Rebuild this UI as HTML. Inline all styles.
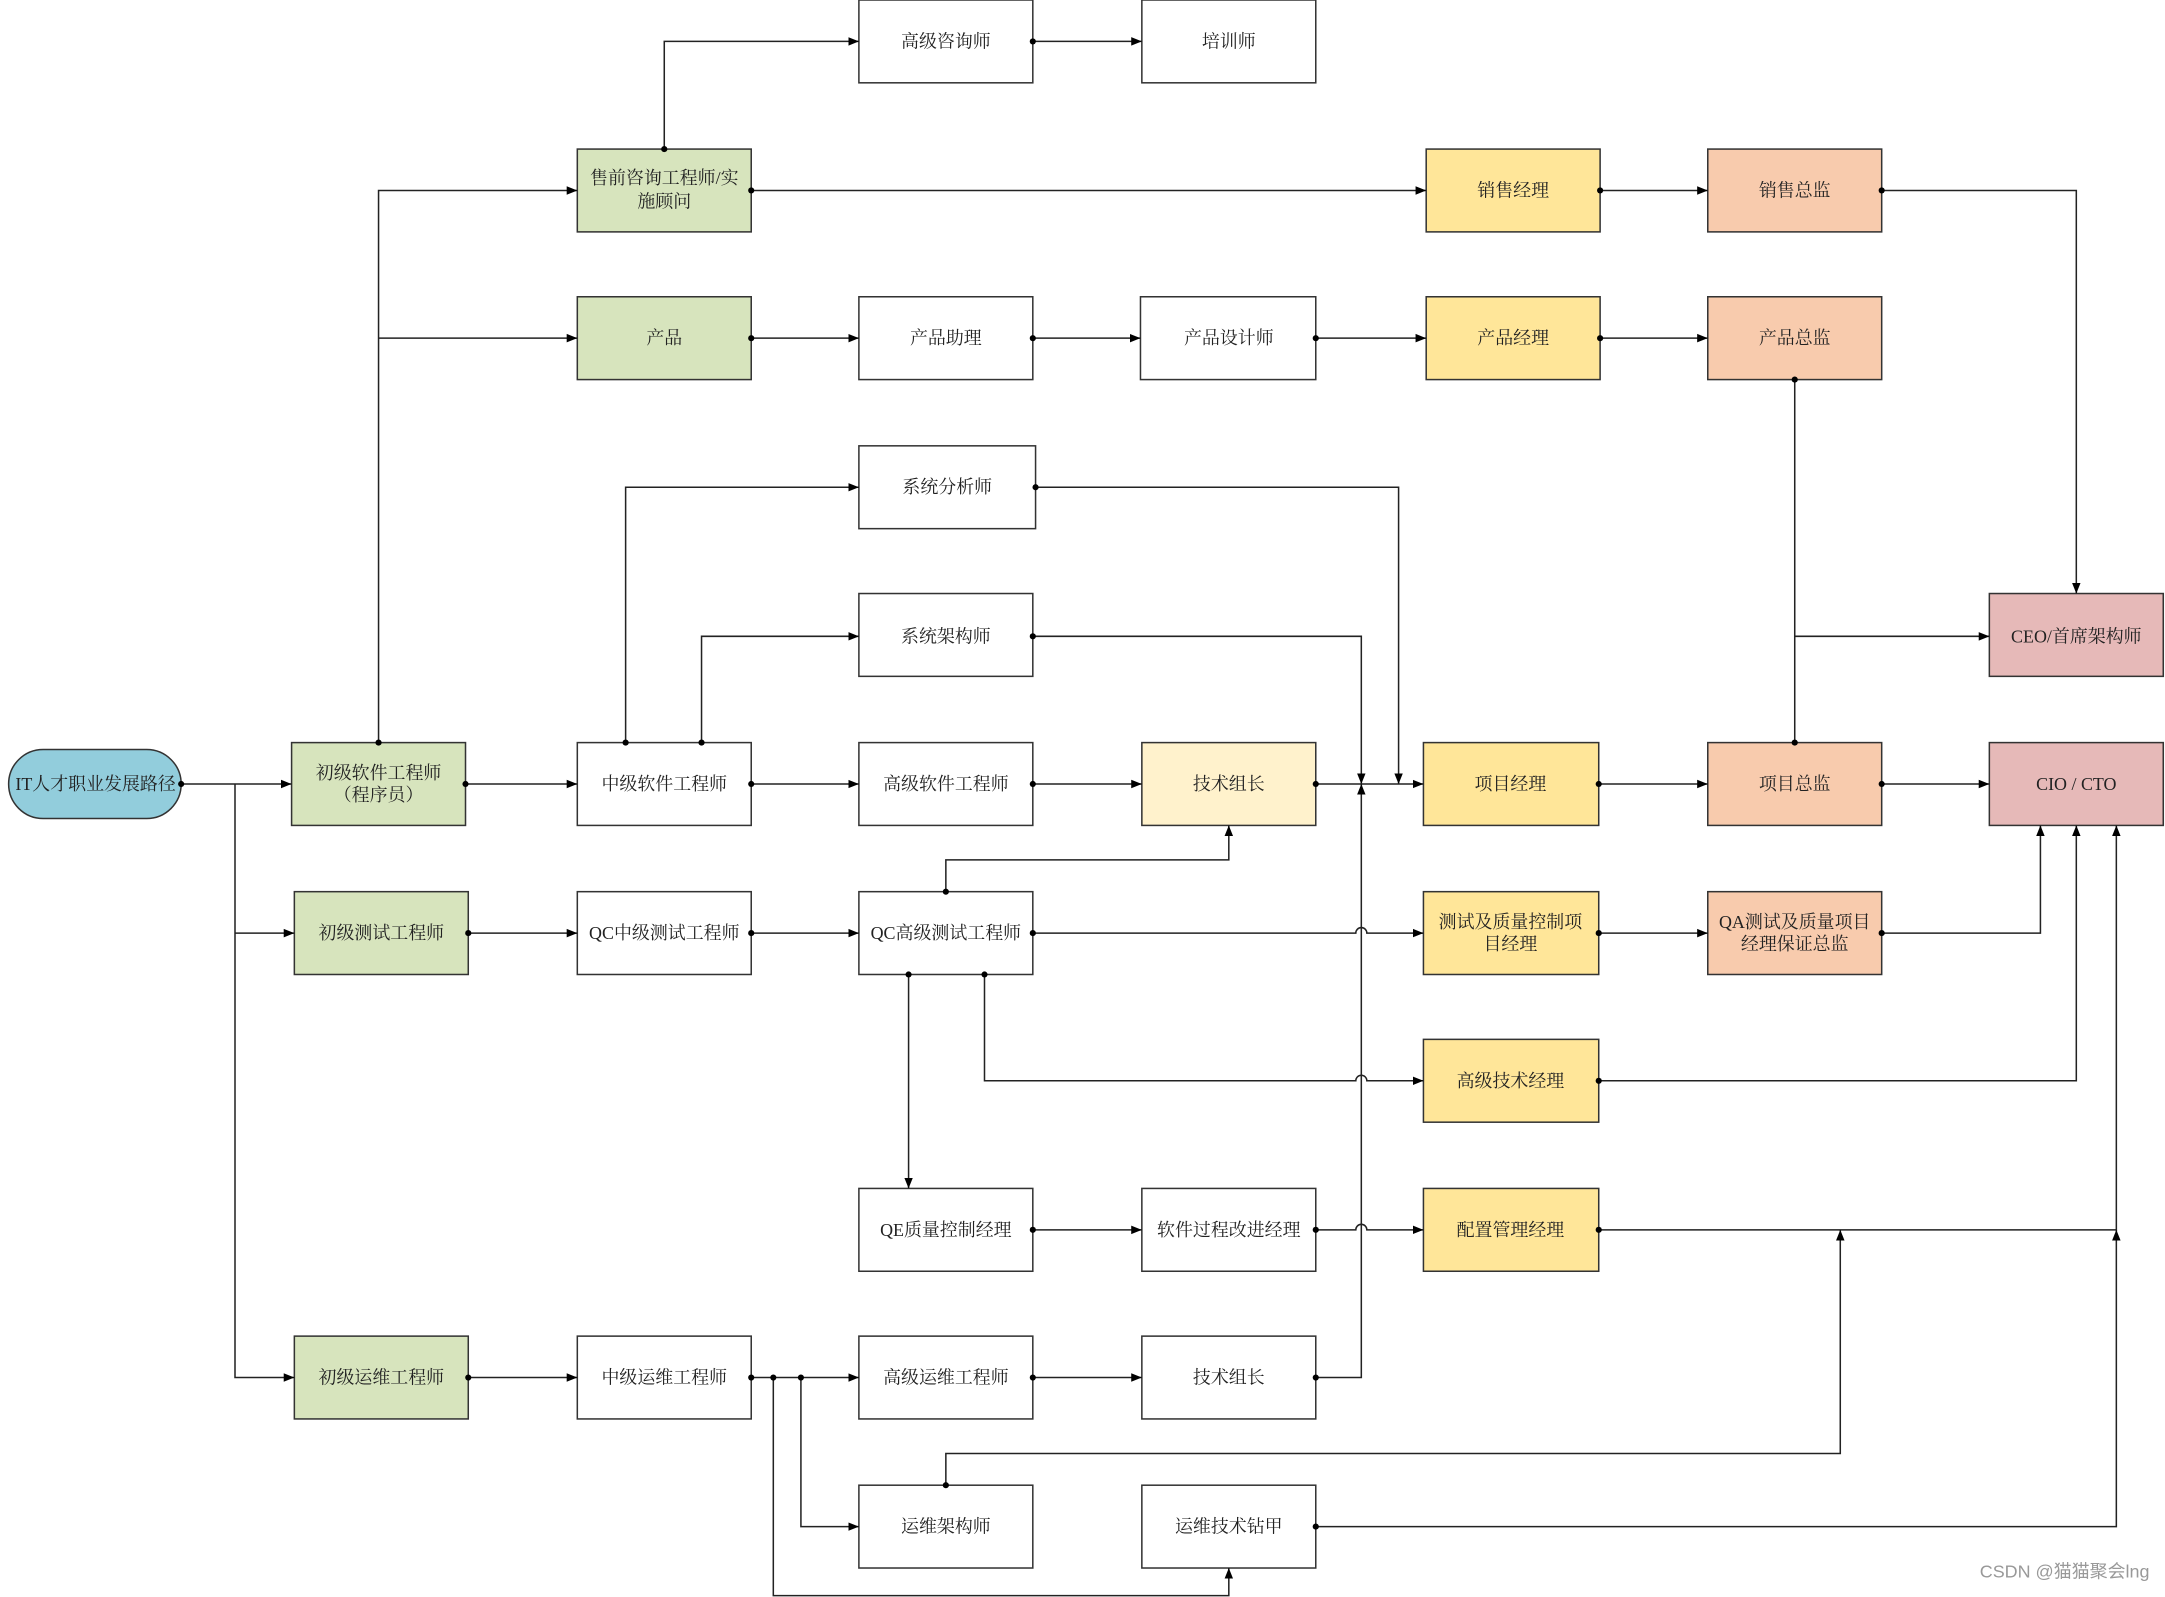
<!DOCTYPE html>
<html><head><meta charset="utf-8"><style>html,body{margin:0;padding:0;background:#fff}svg{display:block}</style></head>
<body>
<svg width="2165" height="1597" viewBox="0 0 1568 1157" xmlns="http://www.w3.org/2000/svg" font-family="'Liberation Serif','Noto Serif CJK SC',serif" font-size="13">
<defs>
<marker id="a" viewBox="0 0 10 10" refX="10" refY="5" markerWidth="7" markerHeight="7" orient="auto-start-reverse"><path d="M0,1 L10,5 L0,9 z" fill="#000"/></marker>
<marker id="d" viewBox="0 0 10 10" refX="5" refY="5" markerWidth="4.5" markerHeight="4.5"><circle cx="5" cy="5" r="4.5" fill="#000"/></marker>
</defs>
<g fill="none" stroke="#333" stroke-width="1.1">
<rect x="622" y="0" width="126" height="60" fill="#fff"/>
<rect x="827" y="0" width="126" height="60" fill="#fff"/>
<rect x="418" y="108" width="126" height="60" fill="#d7e4bd"/>
<rect x="1033" y="108" width="126" height="60" fill="#ffe699"/>
<rect x="1237" y="108" width="126" height="60" fill="#f8cbad"/>
<rect x="418" y="215" width="126" height="60" fill="#d7e4bd"/>
<rect x="622" y="215" width="126" height="60" fill="#fff"/>
<rect x="826" y="215" width="127" height="60" fill="#fff"/>
<rect x="1033" y="215" width="126" height="60" fill="#ffe699"/>
<rect x="1237" y="215" width="126" height="60" fill="#f8cbad"/>
<rect x="622" y="323" width="128" height="60" fill="#fff"/>
<rect x="622" y="430" width="126" height="60" fill="#fff"/>
<rect x="1441" y="430" width="126" height="60" fill="#e6b9b8"/>
<rect x="6" y="543" width="125" height="50" rx="25" fill="#92cddc"/>
<rect x="211" y="538" width="126" height="60" fill="#d7e4bd"/>
<rect x="418" y="538" width="126" height="60" fill="#fff"/>
<rect x="622" y="538" width="126" height="60" fill="#fff"/>
<rect x="827" y="538" width="126" height="60" fill="#fff2cc"/>
<rect x="1031" y="538" width="127" height="60" fill="#ffe699"/>
<rect x="1237" y="538" width="126" height="60" fill="#f8cbad"/>
<rect x="1441" y="538" width="126" height="60" fill="#e6b9b8"/>
<rect x="213" y="646" width="126" height="60" fill="#d7e4bd"/>
<rect x="418" y="646" width="126" height="60" fill="#fff"/>
<rect x="622" y="646" width="126" height="60" fill="#fff"/>
<rect x="1031" y="646" width="127" height="60" fill="#ffe699"/>
<rect x="1237" y="646" width="126" height="60" fill="#f8cbad"/>
<rect x="1031" y="753" width="127" height="60" fill="#ffe699"/>
<rect x="622" y="861" width="126" height="60" fill="#fff"/>
<rect x="827" y="861" width="126" height="60" fill="#fff"/>
<rect x="1031" y="861" width="127" height="60" fill="#ffe699"/>
<rect x="213" y="968" width="126" height="60" fill="#d7e4bd"/>
<rect x="418" y="968" width="126" height="60" fill="#fff"/>
<rect x="622" y="968" width="126" height="60" fill="#fff"/>
<rect x="827" y="968" width="126" height="60" fill="#fff"/>
<rect x="622" y="1076" width="126" height="60" fill="#fff"/>
<rect x="827" y="1076" width="126" height="60" fill="#fff"/>
</g>
<g fill="none" stroke="#222" stroke-width="1.1">
<path d="M131,568 H211" marker-start="url(#d)" marker-end="url(#a)"/>
<path d="M170,568 V998 H213" marker-end="url(#a)"/>
<path d="M170,676 H213" marker-end="url(#a)"/>
<path d="M274,538 V138 H418" marker-start="url(#d)" marker-end="url(#a)"/>
<path d="M274,245 H418" marker-end="url(#a)"/>
<path d="M337,568 H418" marker-start="url(#d)" marker-end="url(#a)"/>
<path d="M481,108 V30 H622" marker-start="url(#d)" marker-end="url(#a)"/>
<path d="M748,30 H827" marker-start="url(#d)" marker-end="url(#a)"/>
<path d="M544,138 H1033" marker-start="url(#d)" marker-end="url(#a)"/>
<path d="M1159,138 H1237" marker-start="url(#d)" marker-end="url(#a)"/>
<path d="M1363,138 H1504 V430" marker-start="url(#d)" marker-end="url(#a)"/>
<path d="M544,245 H622" marker-start="url(#d)" marker-end="url(#a)"/>
<path d="M748,245 H826" marker-start="url(#d)" marker-end="url(#a)"/>
<path d="M953,245 H1033" marker-start="url(#d)" marker-end="url(#a)"/>
<path d="M1159,245 H1237" marker-start="url(#d)" marker-end="url(#a)"/>
<path d="M1300,275 V538" marker-start="url(#d)" marker-end="url(#d)"/>
<path d="M1300,461 H1441" marker-end="url(#a)"/>
<path d="M453,538 V353 H622" marker-start="url(#d)" marker-end="url(#a)"/>
<path d="M508,538 V461 H622" marker-start="url(#d)" marker-end="url(#a)"/>
<path d="M750,353 H1013 V568" marker-start="url(#d)" marker-end="url(#a)"/>
<path d="M748,461 H986 V568" marker-start="url(#d)" marker-end="url(#a)"/>
<path d="M544,568 H622" marker-start="url(#d)" marker-end="url(#a)"/>
<path d="M748,568 H827" marker-start="url(#d)" marker-end="url(#a)"/>
<path d="M953,568 H1031" marker-start="url(#d)" marker-end="url(#a)"/>
<path d="M1158,568 H1237" marker-start="url(#d)" marker-end="url(#a)"/>
<path d="M1363,568 H1441" marker-start="url(#d)" marker-end="url(#a)"/>
<path d="M685,646 V623 H890 V598" marker-start="url(#d)" marker-end="url(#a)"/>
<path d="M339,676 H418" marker-start="url(#d)" marker-end="url(#a)"/>
<path d="M544,676 H622" marker-start="url(#d)" marker-end="url(#a)"/>
<path d="M748,676 H982 a4,4 0 0 1 8,0 H1031" marker-start="url(#d)" marker-end="url(#a)"/>
<path d="M1158,676 H1237" marker-start="url(#d)" marker-end="url(#a)"/>
<path d="M1363,676 H1478 V598" marker-start="url(#d)" marker-end="url(#a)"/>
<path d="M713,706 V783 H982 a4,4 0 0 1 8,0 H1031" marker-start="url(#d)" marker-end="url(#a)"/>
<path d="M1158,783 H1504 V598" marker-start="url(#d)" marker-end="url(#a)"/>
<path d="M658,706 V861" marker-start="url(#d)" marker-end="url(#a)"/>
<path d="M748,891 H827" marker-start="url(#d)" marker-end="url(#a)"/>
<path d="M953,891 H982 a4,4 0 0 1 8,0 H1031" marker-start="url(#d)" marker-end="url(#a)"/>
<path d="M1158,891 H1533 V598" marker-start="url(#d)" marker-end="url(#a)"/>
<path d="M339,998 H418" marker-start="url(#d)" marker-end="url(#a)"/>
<path d="M544,998 H622" marker-start="url(#d)" marker-end="url(#a)"/>
<path d="M748,998 H827" marker-start="url(#d)" marker-end="url(#a)"/>
<path d="M953,998 H986 V568" marker-start="url(#d)" marker-end="url(#a)"/>
<path d="M580,998 V1106 H622" marker-start="url(#d)" marker-end="url(#a)"/>
<path d="M560,998 V1156 H890 V1136" marker-start="url(#d)" marker-end="url(#a)"/>
<path d="M685,1076 V1053 H1333 V891" marker-start="url(#d)" marker-end="url(#a)"/>
<path d="M953,1106 H1533 V891" marker-start="url(#d)" marker-end="url(#a)"/>
</g>
<g fill="#222" text-anchor="middle" dominant-baseline="central">
<text x="685" y="30">高级咨询师</text>
<text x="890" y="30">培训师</text>
<text x="481" y="129">售前咨询工程师/实</text>
<text x="481" y="146">施顾问</text>
<text x="1096" y="138">销售经理</text>
<text x="1300" y="138">销售总监</text>
<text x="481" y="245">产品</text>
<text x="685" y="245">产品助理</text>
<text x="890" y="245">产品设计师</text>
<text x="1096" y="245">产品经理</text>
<text x="1300" y="245">产品总监</text>
<text x="686" y="353">系统分析师</text>
<text x="685" y="461">系统架构师</text>
<text x="1504" y="461">CEO/首席架构师</text>
<text x="69" y="568">IT人才职业发展路径</text>
<text x="274" y="560">初级软件工程师</text>
<text x="274" y="576">（程序员）</text>
<text x="481" y="568">中级软件工程师</text>
<text x="685" y="568">高级软件工程师</text>
<text x="890" y="568">技术组长</text>
<text x="1094" y="568">项目经理</text>
<text x="1300" y="568">项目总监</text>
<text x="1504" y="568">CIO / CTO</text>
<text x="276" y="676">初级测试工程师</text>
<text x="481" y="676">QC中级测试工程师</text>
<text x="685" y="676">QC高级测试工程师</text>
<text x="1094" y="668">测试及质量控制项</text>
<text x="1094" y="684">目经理</text>
<text x="1300" y="668">QA测试及质量项目</text>
<text x="1300" y="684">经理保证总监</text>
<text x="1094" y="783">高级技术经理</text>
<text x="685" y="891">QE质量控制经理</text>
<text x="890" y="891">软件过程改进经理</text>
<text x="1094" y="891">配置管理经理</text>
<text x="276" y="998">初级运维工程师</text>
<text x="481" y="998">中级运维工程师</text>
<text x="685" y="998">高级运维工程师</text>
<text x="890" y="998">技术组长</text>
<text x="685" y="1106">运维架构师</text>
<text x="890" y="1106">运维技术钻甲</text>
</g>
<text x="1557" y="1143" text-anchor="end" font-family="'Liberation Sans','Noto Sans CJK SC',sans-serif" font-size="13" fill="#999">CSDN @猫猫聚会lng</text>
</svg>
</body></html>
